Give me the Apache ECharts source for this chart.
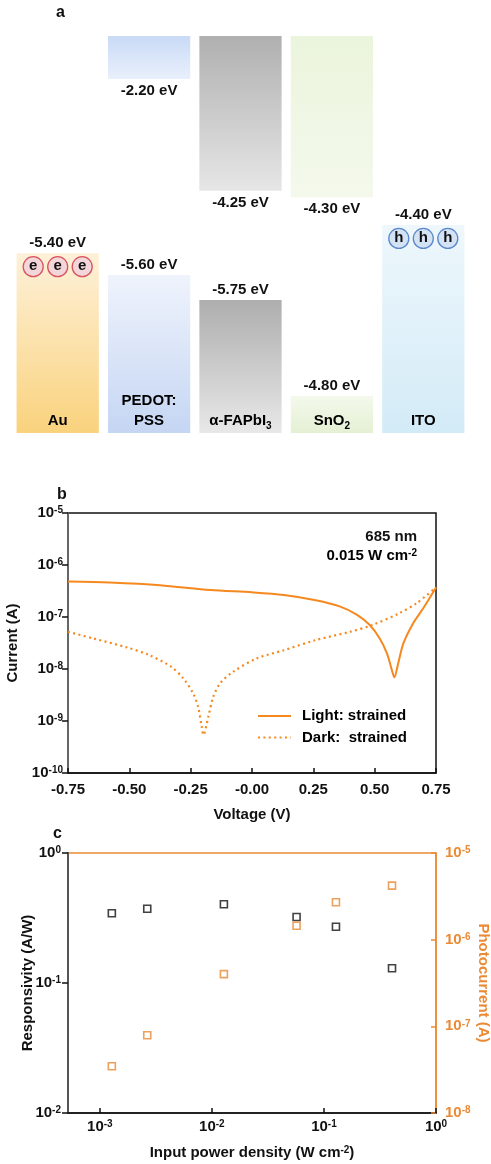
<!DOCTYPE html>
<html>
<head>
<meta charset="utf-8">
<script src="https://cdn.jsdelivr.net/npm/echarts@6.0.0/dist/echarts.min.js"></script>
<style>
  html, body { margin: 0; padding: 0; background: #fff; }
  #chart { width: 491px; height: 1164px; }
</style>
</head>
<body>
<div id="chart"></div>
<script>
// ---------- Panel a: energy levels of the device stack ----------
const layers = ['Au', 'PEDOT:PSS', 'α-FAPbI3', 'SnO2', 'ITO'];
const layerLabels = ['{n|Au}', '{n|PEDOT:}\n{n|PSS}', '{n|α-FAPbI}{s|3}', '{n|SnO}{s|2}', '{n|ITO}'];
const upperEnergy = [null, -2.20, -4.25, -4.30, null];   // eV, printed under the upper band
const lowerEnergy = [-5.40, -5.60, -5.75, -4.80, -4.40]; // eV, printed over the lower band
// schematic band edges on the diagram's 0-100 height scale
const upperLevel = [null, 89.2, 61.0, 59.4, null];
const lowerLevel = [45.3, 39.8, 33.5, 9.3, 52.4];
const carriers = ['e', null, null, null, 'h'];

// ---------- Panel b: I-V curves ----------
const lightV = [-0.75, -0.58, -0.375, -0.17, 0.0, 0.13, 0.26, 0.36, 0.43, 0.48, 0.52, 0.55, 0.57, 0.58, 0.596, 0.617, 0.657, 0.698, 0.75];
const lightI = [4.8e-7, 4.6e-7, 4.1e-7, 3.3e-7, 2.98e-7, 2.65e-7, 2.1e-7, 1.58e-7, 1.09e-7, 7.0e-8, 3.9e-8, 2.0e-8, 9.6e-9, 6.9e-9, 1.29e-8, 3.1e-8, 7.6e-8, 1.47e-7, 3.7e-7];
const darkV = [-0.75, -0.65, -0.51, -0.42, -0.33, -0.28, -0.24, -0.22, -0.205, -0.198, -0.178, -0.158, -0.13, -0.076, 0.02, 0.13, 0.26, 0.40, 0.49, 0.60, 0.67, 0.75];
const darkI = [5.2e-8, 3.9e-8, 2.6e-8, 1.86e-8, 1.11e-8, 6.6e-9, 3.4e-9, 1.9e-9, 7.8e-10, 5.4e-10, 1.21e-9, 2.9e-9, 5.3e-9, 8.9e-9, 1.6e-8, 2.3e-8, 3.6e-8, 5.2e-8, 7.0e-8, 1.18e-7, 1.83e-7, 3.7e-7];

// ---------- Panel c: responsivity and photocurrent vs power ----------
const powerDensity = [1.28e-3, 2.65e-3, 0.0128, 0.057, 0.128, 0.405];
const responsivity = [0.344, 0.373, 0.403, 0.322, 0.271, 0.130];
const photocurrent = [3.46e-8, 7.9e-8, 4.0e-7, 1.45e-6, 2.7e-6, 4.2e-6];

// ---------- styles ----------
const FONT = '"Liberation Sans", Arial, sans-serif';
const INK = '#111';
const ORANGE_B = '#F5891F';
const ORANGE_C = '#EA8A35';
const bandFill = {
  upper: [null, ['#C9DAF6', '#E9F0FC'], ['#B0B0B0', '#E6E6E6'], ['#EBF4DC', '#F4F9EC'], null],
  lower: [['#FEF1D9', '#F9D27D'], ['#EFF3FC', '#C5D6F3'], ['#AEAEAE', '#E8E8E8'], ['#F4F9EC', '#E4F0D3'], ['#EEF7FC', '#D3EBF7']]
};
const carrierStyle = {
  e: { fill: '#F3D6DA', stroke: '#D9545E' },
  h: { fill: '#D3E2F5', stroke: '#5B88C9' }
};

function grad(c) {
  return new echarts.graphic.LinearGradient(0, 0, 0, 1, [
    { offset: 0, color: c[0] }, { offset: 1, color: c[1] }
  ]);
}
function eV(v) { return v.toFixed(2) + ' eV'; }

const labelRich = {
  n: { fontSize: 15, fontWeight: 'bold', fontFamily: FONT, color: '#222', lineHeight: 20 },
  s: { fontSize: 10, fontWeight: 'bold', fontFamily: FONT, color: '#222', verticalAlign: 'bottom', lineHeight: 14 }
};

function renderBand(params, api) {
  const i = api.value(0);
  const bw = api.size([1, 0])[0] * 0.9;
  const cx = api.coord([i, 0])[0];
  const x0 = cx - bw / 2;
  const yBase = api.coord([i, 0])[1];
  const yTopEdge = api.coord([i, 100])[1];
  const kids = [];
  if (upperLevel[i] != null) {
    const yb = api.coord([i, upperLevel[i]])[1];
    kids.push({ type: 'rect', shape: { x: x0, y: yTopEdge, width: bw, height: yb - yTopEdge },
      style: { fill: grad(bandFill.upper[i]) } });
    kids.push({ type: 'text', style: { text: eV(upperEnergy[i]), x: cx, y: yb + 12, align: 'center', verticalAlign: 'middle',
      fontSize: 15, fontWeight: 'bold', fontFamily: FONT, fill: INK } });
  }
  const yt = api.coord([i, lowerLevel[i]])[1];
  kids.push({ type: 'rect', shape: { x: x0, y: yt, width: bw, height: yBase - yt },
    style: { fill: grad(bandFill.lower[i]) } });
  kids.push({ type: 'text', style: { text: eV(lowerEnergy[i]), x: cx, y: yt - 10, align: 'center', verticalAlign: 'middle',
    fontSize: 15, fontWeight: 'bold', fontFamily: FONT, fill: INK } });
  kids.push({ type: 'text', style: { text: layerLabels[i], rich: labelRich, x: cx, y: yBase - 2, align: 'center', verticalAlign: 'bottom' } });
  if (carriers[i]) {
    const cs = carrierStyle[carriers[i]];
    [-24.5, 0, 24.5].forEach(function (dx) {
      kids.push({ type: 'circle', shape: { cx: cx + dx, cy: yt + 13.5, r: 10 },
        style: { fill: cs.fill, stroke: cs.stroke, lineWidth: 1.3 } });
      kids.push({ type: 'text', style: { text: carriers[i], x: cx + dx, y: yt + 13, align: 'center', verticalAlign: 'middle',
        fontSize: 15, fontWeight: 'bold', fontFamily: FONT, fill: INK } });
    });
  }
  return { type: 'group', children: kids };
}

function powLabel(color, size) {
  return {
    b: { fontSize: size, fontWeight: 'bold', fontFamily: FONT, color: color },
    s: { fontSize: 10, fontWeight: 'bold', fontFamily: FONT, color: color, verticalAlign: 'top', padding: [0, 0, 4, 0] }
  };
}
function powFormatter(v) {
  const e = Math.log10(v);
  const r = Math.round(e);
  if (Math.abs(e - r) > 1e-6) return '';
  return '{b|10}{s|' + r + '}';
}

const chart = echarts.init(document.getElementById('chart'));
chart.setOption({
  animation: false,
  backgroundColor: '#fff',
  grid: [
    { left: 12, width: 457, top: 36, height: 397, outerBoundsMode: 'none' },
    { left: 68, width: 368, top: 513, height: 260, show: true, borderColor: INK, borderWidth: 1.5, outerBoundsMode: 'none' },
    { left: 68, width: 368, top: 853, height: 260, show: true, borderColor: ORANGE_C, borderWidth: 1.5, outerBoundsMode: 'none' }
  ],
  xAxis: [
    { gridIndex: 0, type: 'category', data: layers, show: false },
    { gridIndex: 1, type: 'value', min: -0.75, max: 0.75, interval: 0.25,
      axisLine: { onZero: false, lineStyle: { color: INK, width: 1.5 } },
      axisTick: { inside: true, length: 5, lineStyle: { color: INK, width: 1.5 } },
      splitLine: { show: false },
      axisLabel: { margin: 9, fontSize: 15, fontWeight: 'bold', fontFamily: FONT, color: INK,
        formatter: function (v) { return Math.abs(v) < 1e-9 ? '-0.00' : v.toFixed(2); } },
      name: 'Voltage (V)', nameLocation: 'middle', nameGap: 34, nameMoveOverlap: false,
      nameTextStyle: { fontSize: 15, fontWeight: 'bold', fontFamily: FONT, color: INK } },
    { gridIndex: 2, type: 'log', logBase: 10, min: 5.2e-4, max: 1,
      axisLine: { onZero: false, lineStyle: { color: '#222', width: 2 } },
      axisTick: { inside: true, length: 5, lineStyle: { color: INK, width: 1.5 } },
      minorTick: { show: false },
      splitLine: { show: false },
      axisLabel: { margin: 6, showMinLabel: false, formatter: powFormatter, rich: powLabel(INK, 15) },
      name: '{b|Input power density (W cm}{s|-2}{b|)}', nameLocation: 'middle', nameGap: 32, nameMoveOverlap: false,
      nameTextStyle: { rich: powLabel(INK, 15) } }
  ],
  yAxis: [
    { gridIndex: 0, type: 'value', min: 0, max: 100, show: false },
    { gridIndex: 1, type: 'log', logBase: 10, min: 1e-10, max: 1e-5,
      axisLine: { onZero: false, lineStyle: { color: '#666', width: 2 } },
      axisTick: { inside: false, length: 6, lineStyle: { color: INK, width: 1.5 } },
      splitLine: { show: false },
      axisLabel: { margin: 5, formatter: powFormatter, rich: powLabel(INK, 15) },
      name: 'Current (A)', nameLocation: 'middle', nameGap: 48, nameMoveOverlap: false,
      nameTextStyle: { fontSize: 15, fontWeight: 'bold', fontFamily: FONT, color: INK } },
    { gridIndex: 2, type: 'log', logBase: 10, min: 0.01, max: 1, position: 'left',
      axisLine: { onZero: false, lineStyle: { color: '#555', width: 2 } },
      axisTick: { inside: false, length: 6, lineStyle: { color: INK, width: 1.5 } },
      splitLine: { show: false },
      axisLabel: { margin: 7, formatter: powFormatter, rich: powLabel(INK, 15) },
      name: 'Responsivity (A/W)', nameLocation: 'middle', nameGap: 33, nameMoveOverlap: false,
      nameTextStyle: { fontSize: 15, fontWeight: 'bold', fontFamily: FONT, color: INK } },
    { gridIndex: 2, type: 'log', logBase: 10, min: 1e-8, max: 1e-5, position: 'right',
      axisLine: { onZero: false, lineStyle: { color: ORANGE_C, width: 1.5 } },
      axisTick: { inside: true, length: 5, lineStyle: { color: ORANGE_C, width: 1.5 } },
      splitLine: { show: false },
      axisLabel: { margin: 9, formatter: powFormatter, rich: powLabel(ORANGE_C, 15) },
      name: 'Photocurrent (A)', nameLocation: 'middle', nameGap: 40, nameRotate: -90, nameMoveOverlap: false,
      nameTextStyle: { fontSize: 15, fontWeight: 'bold', fontFamily: FONT, color: ORANGE_C } }
  ],
  series: [
    { type: 'custom', xAxisIndex: 0, yAxisIndex: 0, renderItem: renderBand,
      data: layers.map(function (_, i) { return [i]; }), silent: true },
    { type: 'line', name: 'Light', xAxisIndex: 1, yAxisIndex: 1, showSymbol: false, smooth: 0.3,
      lineStyle: { color: ORANGE_B, width: 2 },
      data: lightV.map(function (v, i) { return [v, lightI[i]]; }) },
    { type: 'line', name: 'Dark', xAxisIndex: 1, yAxisIndex: 1, showSymbol: false, smooth: 0.3,
      lineStyle: { color: ORANGE_B, width: 2.2, type: [2, 3.4] },
      data: darkV.map(function (v, i) { return [v, darkI[i]]; }) },
    { type: 'scatter', name: 'Responsivity', xAxisIndex: 2, yAxisIndex: 2, symbol: 'rect', symbolSize: 7,
      itemStyle: { color: '#fff', borderColor: INK, borderWidth: 1.6 },
      data: powerDensity.map(function (p, i) { return [p, responsivity[i]]; }) },
    { type: 'scatter', name: 'Photocurrent', xAxisIndex: 2, yAxisIndex: 3, symbol: 'rect', symbolSize: 7,
      itemStyle: { color: '#fff', borderColor: ORANGE_C, borderWidth: 1.6 },
      data: powerDensity.map(function (p, i) { return [p, photocurrent[i]]; }) }
  ],
  graphic: [
    { type: 'text', left: 56, top: 5, style: { text: 'a', fontSize: 16, fontWeight: 'bold', fontFamily: FONT, fill: INK } },
    { type: 'text', left: 57, top: 487, style: { text: 'b', fontSize: 16, fontWeight: 'bold', fontFamily: FONT, fill: INK } },
    { type: 'text', left: 53, top: 826, style: { text: 'c', fontSize: 16, fontWeight: 'bold', fontFamily: FONT, fill: INK } },
    { type: 'text', x: 417, y: 537, style: { text: '685 nm', align: 'right', verticalAlign: 'middle',
      fontSize: 15, fontWeight: 'bold', fontFamily: FONT, fill: INK } },
    { type: 'text', x: 417, y: 556, style: { text: '{b|0.015 W cm}{s|-2}', align: 'right', verticalAlign: 'middle',
      rich: powLabel(INK, 15) } },
    { type: 'line', shape: { x1: 258, y1: 716, x2: 291, y2: 716 }, style: { stroke: ORANGE_B, lineWidth: 2 } },
    { type: 'line', shape: { x1: 258, y1: 737.5, x2: 291, y2: 737.5 }, style: { stroke: ORANGE_B, lineWidth: 2.2, lineDash: [2, 3.4] } },
    { type: 'text', x: 302, y: 716, style: { text: '{k|Light: }{o|strained}', verticalAlign: 'middle',
      rich: { k: { fontSize: 15, fontWeight: 'bold', fontFamily: FONT, color: INK },
              o: { fontSize: 15, fontWeight: 'bold', fontFamily: FONT, color: ORANGE_B } } } },
    { type: 'text', x: 302, y: 737.5, style: { text: '{k|Dark:  }{o|strained}', verticalAlign: 'middle',
      rich: { k: { fontSize: 15, fontWeight: 'bold', fontFamily: FONT, color: INK },
              o: { fontSize: 15, fontWeight: 'bold', fontFamily: FONT, color: ORANGE_B } } } }
  ]
});
</script>
</body>
</html>
